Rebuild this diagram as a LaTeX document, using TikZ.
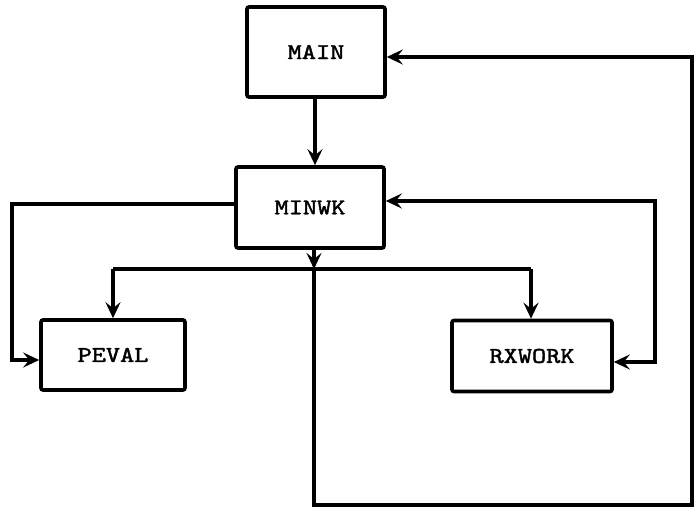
\documentclass[tikz,border=0pt]{standalone}
\usepackage{fontspec}
\newfontfamily\boxfont[FakeBold=1.6]{lmmono10-regular.otf}
\usetikzlibrary{arrows.meta}
\begin{document}
\begin{tikzpicture}[x=1pt,y=-1pt,
  boxnode/.style={draw,line width=3.6pt,rounded corners=2pt,inner sep=0pt,
    font=\fontsize{22.5}{22.5}\selectfont\boxfont},
  conn/.style={line width=3.2pt,line cap=butt,line join=miter},
  arr/.style={conn,-{Stealth[length=16pt,width=15pt,inset=6pt]}},
  darr/.style={conn,{Stealth[length=16pt,width=15pt,inset=6pt]}-{Stealth[length=16pt,width=15pt,inset=6pt]}}]
\useasboundingbox (0,0) rectangle (698,510);
\newcommand{\boxtxt}[1]{\scalebox{1.2}[1]{#1}}
\node[boxnode,minimum width=138pt,minimum height=90pt] (main) at (316,52) {\boxtxt{MAIN}};
\node[boxnode,minimum width=148pt,minimum height=81pt] (minwk) at (310,207.5) {\boxtxt{MINWK}};
\node[boxnode,minimum width=144pt,minimum height=70pt] (peval) at (113,355) {\boxtxt{PEVAL}};
\node[boxnode,minimum width=160pt,minimum height=71pt] (rxwork) at (532,356) {\boxtxt{RXWORK}};
% helper coordinates
\coordinate (lft) at (12,204);
\coordinate (jn) at (314,269);
\coordinate (bot) at (314,505);
\coordinate (rgt) at (692,57);
\coordinate (rmid) at (655,201);
\coordinate (rlow) at (655,362);
% MAIN -> MINWK
\draw[arr] (main.south -| 315,0) -- (minwk.north -| 315,0);
% MINWK -> PEVAL (left loop)
\draw[arr] (minwk.west |- lft) -- (lft) |- (peval.west |- 0,360);
% MINWK -> junction
\draw[arr] (minwk.south -| jn) -- (jn);
% distribution bus
\draw[conn] (113,269) -- (531,269);
\draw[arr] (113,269) -- (peval.north -| 113,0);
\draw[arr] (531,269) -- (rxwork.north -| 531,0);
% return to MAIN
\draw[arr] (jn) -- (bot) -| (rgt) -- (main.east |- rgt);
% RXWORK <-> MINWK
\draw[darr] (minwk.east |- rmid) -- (rmid) -- (rlow) -- (rxwork.east |- rlow);
\end{tikzpicture}
\end{document}
